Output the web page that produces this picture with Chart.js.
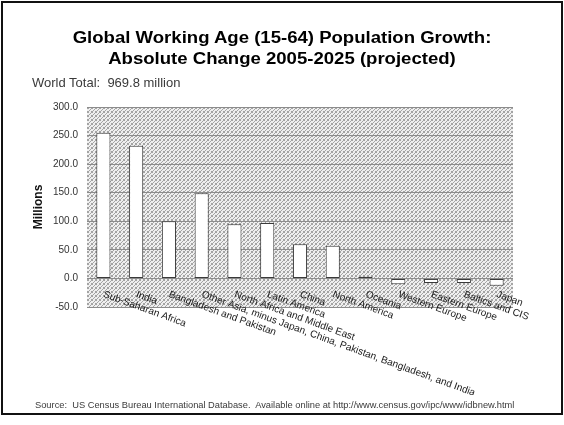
<!DOCTYPE html>
<html>
<head>
<meta charset="utf-8">
<title>Global Working Age Population Growth</title>
<script src="https://cdn.jsdelivr.net/npm/chart.js@4.4.1/dist/chart.umd.min.js"></script>
<style>
  html, body { margin: 0; padding: 0; background: #fff; }
  #wrap { position: relative; width: 564px; height: 425px; overflow: hidden; }
  #frame { position: absolute; left: 1px; top: 1px; width: 558px; height: 410px; border: 2px solid #111; }
  #chart { position: absolute; left: 0; top: 0; }
  .note { position: absolute; font-family: 'Liberation Sans', Arial, sans-serif; color: #3a3a3a; white-space: pre; }
  #title {
    left: 0; top: 26.5px; width: 564px; text-align: center;
    font-size: 16px; font-weight: bold; line-height: 21px; color: #000;
    transform: scaleX(1.16); transform-origin: 50% 0;
  }
  #world { left: 32px; top: 75px; font-size: 13px; }
  #source { left: 35px; top: 400px; font-size: 9.3px; }
</style>
</head>
<body>
<div id="wrap">
  <div id="frame"></div>
  <canvas id="chart" width="564" height="425"></canvas>
  <div class="note" id="title"></div>
  <div class="note" id="world">World Total:  969.8 million</div>
  <div class="note" id="source">Source:  US Census Bureau International Database.  Available online at http://www.census.gov/ipc/www/idbnew.html</div>
</div>
<script>
// Data (millions, 2005-2025)
const regions = [
    'Sub-Saharan Africa',
    'India',
    'Bangladesh and Pakistan',
    'Other Asia, minus Japan, China, Pakistan, Bangladesh, and India',
    'North Africa and Middle East',
    'Latin America',
    'China',
    'North America',
    'Oceania',
    'Western Europe',
    'Eastern Europe',
    'Baltics and CIS',
    'Japan'
];
const change = [255, 232, 100, 149, 95, 97, 60, 57, 3, -10, -8, -8, -13];

const titleLines = [
    'Global Working Age (15-64) Population Growth:',
    'Absolute Change 2005-2025 (projected)'
];
const yMin = -50;
const yMax = 300;
const yStep = 50;

const FONT = "'Liberation Sans', Arial, sans-serif";

document.getElementById('title').textContent = titleLines.join('\n');

// stippled grey fill behind the bars
function makeStipple(ctx) {
    const c = document.createElement('canvas');
    c.width = 4;
    c.height = 4;
    const p = c.getContext('2d');
    p.fillStyle = '#efefef';
    p.fillRect(0, 0, 4, 4);
    p.fillStyle = '#a4a4a4';
    [[0, 0], [2, 1], [3, 0], [1, 2], [3, 3], [0, 3]].forEach(([x, y]) => p.fillRect(x, y, 1, 1));
    return ctx.createPattern(c, 'repeat');
}

const plotBg = {
    id: 'plotBg',
    beforeDraw(chart) {
        const { ctx, chartArea: a } = chart;
        ctx.save();
        ctx.fillStyle = makeStipple(ctx);
        ctx.fillRect(a.left, a.top, a.width, a.height);
        ctx.restore();
    }
};

// slanted category labels hanging off the zero line
const catLabels = {
    id: 'catLabels',
    afterDraw(chart) {
        const { ctx, scales: { x, y } } = chart;
        const y0 = y.getPixelForValue(0);
        ctx.save();
        ctx.beginPath();
        ctx.rect(0, 0, 537, 395);
        ctx.clip();
        ctx.font = '10px ' + FONT;
        ctx.fillStyle = '#1a1a1a';
        ctx.textAlign = 'left';
        ctx.textBaseline = 'top';
        regions.forEach((name, i) => {
            ctx.save();
            ctx.translate(x.getPixelForValue(i) + 2, y0 + 11);
            ctx.rotate(20 * Math.PI / 180);
            ctx.fillText(name, 0, 0);
            ctx.restore();
        });
        ctx.restore();
    }
};

new Chart(document.getElementById('chart'), {
    type: 'bar',
    data: {
        labels: regions,
        datasets: [{
            data: change,
            backgroundColor: '#ffffff',
            borderColor: '#3a3a3a',
            borderWidth: 1,
            borderSkipped: false,
            barPercentage: 0.43,
            categoryPercentage: 1
        }]
    },
    options: {
        responsive: false,
        animation: false,
        layout: { padding: { left: 0, right: 0, top: 107, bottom: 118 } },
        plugins: {
            legend: { display: false },
            tooltip: { enabled: false }
        },
        scales: {
            x: {
                afterFit(scale) { scale.height = 0; },
                ticks: { display: false },
                grid: { display: false },
                border: { display: false }
            },
            y: {
                min: yMin,
                max: yMax,
                afterFit(scale) { scale.width = 87; },
                ticks: {
                    stepSize: yStep,
                    padding: 9,
                    color: '#333',
                    font: { family: FONT, size: 10 },
                    callback: v => v.toFixed(1)
                },
                grid: { color: '#8c8c8c', drawTicks: false },
                border: { display: false },
                title: {
                    display: true,
                    text: 'Millions',
                    color: '#111',
                    font: { family: FONT, size: 12, weight: 'bold' },
                    padding: { top: 31, bottom: 0 }
                }
            },
            // empty right-hand axis that only reserves the blank strip right of the plot
            yRight: {
                position: 'right',
                min: yMin,
                max: yMax,
                afterFit(scale) { scale.width = 51; },
                ticks: { display: false },
                grid: { display: false },
                border: { display: false }
            }
        }
    },
    plugins: [plotBg, catLabels]
});
</script>
</body>
</html>
